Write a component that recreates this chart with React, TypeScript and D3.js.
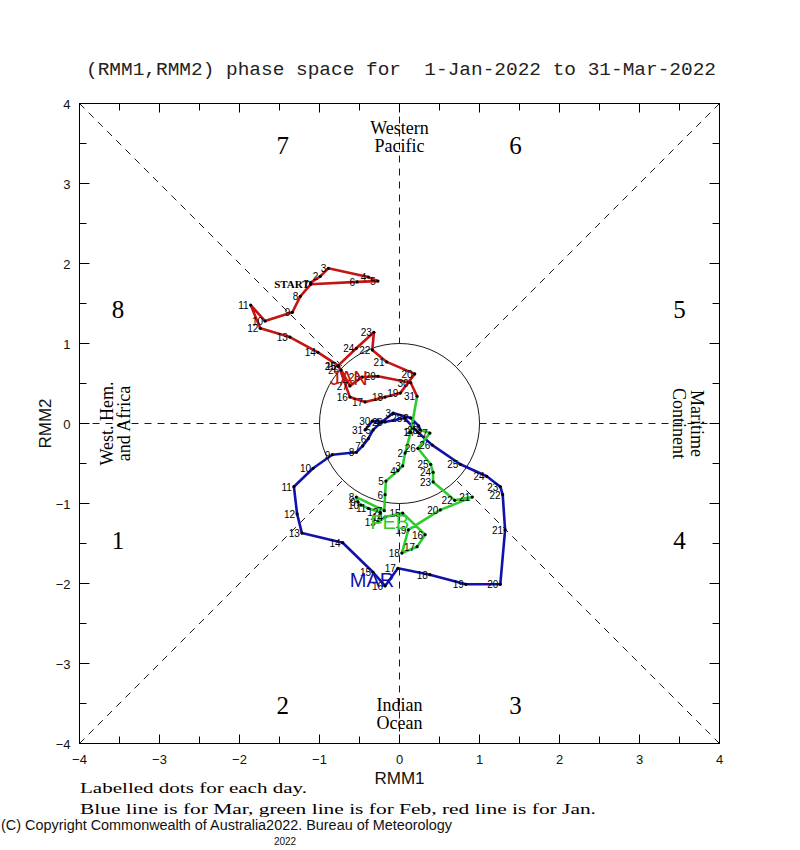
import * as d3 from 'd3'

// RMM1 / RMM2 values per day
const janRmm1 = [-1.11, -0.99, -0.89, -0.39, -0.27, -0.53, -1.11, -1.24, -1.34, -1.68, -1.86, -1.74, -1.37, -1.02, -0.76,
  -0.62, -0.43, -0.18, 0.01, 0.19, -0.16, -0.34, -0.32, -0.54, -0.77, -0.73, -0.62, -0.47, -0.27, 0.14, 0.22]
const janRmm2 = [1.76, 1.84, 1.94, 1.83, 1.78, 1.77, 1.74, 1.59, 1.39, 1.28, 1.48, 1.19, 1.08, 0.89, 0.72,
  0.33, 0.27, 0.33, 0.38, 0.62, 0.77, 0.92, 1.14, 0.94, 0.72, 0.67, 0.47, 0.58, 0.59, 0.51, 0.34]
const febRmm1 = [0.14, 0.07, 0.04, -0.02, -0.17, -0.18, -0.19, -0.54, -0.52, -0.48, -0.39, -0.24, -0.27, -0.18,
  0.04, 0.32, 0.22, 0.03, 0.11, 0.51, 0.91, 0.69, 0.42, 0.42, 0.39, 0.23, 0.38, 0.26]
const febRmm2 = [-0.11, -0.37, -0.53, -0.59, -0.72, -0.89, -1.09, -0.92, -0.98, -1.02, -1.06, -1.11, -1.23, -1.17,
  -1.12, -1.39, -1.54, -1.62, -1.33, -1.08, -0.92, -0.96, -0.73, -0.61, -0.51, -0.31, -0.12, -0.08]
const marRmm1 = [0.24, 0.14, -0.08, -0.22, -0.33, -0.39, -0.46, -0.54, -0.84, -1.08, -1.32, -1.28, -1.22, -0.71,
  -0.33, -0.18, -0.02, 0.38, 0.83, 1.26, 1.32, 1.29, 1.26, 1.09, 0.76, 0.41, 0.23, 0.06, -0.18, -0.34, -0.43]
const marRmm2 = [-0.03, 0.07, 0.13, 0.02, -0.08, -0.19, -0.28, -0.36, -0.39, -0.56, -0.79, -1.13, -1.37, -1.49,
  -1.86, -2.03, -1.81, -1.89, -2.01, -2.01, -1.33, -0.89, -0.79, -0.66, -0.51, -0.27, -0.11, 0.07, 0.02, 0.03, -0.08]

const monthNames = ['JAN', 'FEB', 'MAR']
const monthColors = ['#c41414', '#2ecc2e', '#1212a8']
const monthLabelDx = [10, -13, -1]
const monthLabelDy = [12, 9, 8]

const axisTicks = [-4, -3, -2, -1, 0, 1, 2, 3, 4]
const minorTicks = d3.range(-3.5, 4, 1)
const phaseNums = ['1', '2', '3', '4', '5', '6', '7', '8']
const phaseX = [-3.52, -1.46, 1.45, 3.5, 3.5, 1.45, -1.46, -3.52]
const phaseY = [-1.46, -3.52, -3.52, -1.46, 1.43, 3.48, 3.48, 1.43]

const W = 800
const H = 850
const x = d3.scaleLinear().domain([-4, 4]).range([79.5, 719.5])
const y = d3.scaleLinear().domain([-4, 4]).range([743.5, 103.5])

type Pt = [number, number]
const zip = (a: number[], b: number[]): Pt[] => a.map((v, i) => [v, b[i]])
const series: Pt[][] = [zip(janRmm1, janRmm2), zip(febRmm1, febRmm2), zip(marRmm1, marRmm2)]

const line = d3.line<Pt>().x(d => x(d[0])).y(d => y(d[1]))

function App() {
  const cx = x(0), cy = y(0), r = x(1) - x(0)
  const x0 = x(-4), x1 = x(4), y0 = y(4), y1 = y(-4)
  const k = Math.SQRT1_2 * r
  const dash = '7,6'
  const sansNarrow = '"Liberation Sans Narrow", "Liberation Sans", Arial, sans-serif'
  const serif = '"Liberation Serif", "DejaVu Serif", serif'
  const drawOrder = [2, 1, 0]

  return (
    <svg width={W} height={H} style={{ position: 'absolute', left: 0, top: 0, background: '#fff' }}>
      {/* title */}
      <text x={86} y={75} fontFamily='"Liberation Mono", "DejaVu Sans Mono", monospace' fontSize={18}
        textLength={630} lengthAdjust="spacingAndGlyphs" fill="#222" style={{ whiteSpace: 'pre' }}>
        {'(RMM1,RMM2) phase space for  1-Jan-2022 to 31-Mar-2022'}
      </text>

      {/* dashed phase dividers, outside the unit circle */}
      <g stroke="#000" strokeWidth={0.9} strokeDasharray={dash} fill="none">
        <line x1={cx} y1={y0} x2={cx} y2={cy - r} />
        <line x1={cx} y1={cy + r} x2={cx} y2={y1} />
        <line x1={x0} y1={cy} x2={cx - r} y2={cy} />
        <line x1={cx + r} y1={cy} x2={x1} y2={cy} />
        <line x1={x0} y1={y0} x2={cx - k} y2={cy - k} />
        <line x1={x1} y1={y0} x2={cx + k} y2={cy - k} />
        <line x1={x0} y1={y1} x2={cx - k} y2={cy + k} />
        <line x1={x1} y1={y1} x2={cx + k} y2={cy + k} />
      </g>
      <circle cx={cx} cy={cy} r={r} fill="none" stroke="#000" strokeWidth={0.9} />

      {/* frame + ticks */}
      <rect x={x0} y={y0} width={x1 - x0} height={y1 - y0} fill="none" stroke="#000" strokeWidth={1} />
      <g stroke="#000" strokeWidth={1}>
        {axisTicks.map(t => (
          <g key={'M' + t}>
            <line x1={x(t)} y1={y1} x2={x(t)} y2={y1 - 9} />
            <line x1={x(t)} y1={y0} x2={x(t)} y2={y0 + 9} />
            <line x1={x0} y1={y(t)} x2={x0 + 10} y2={y(t)} />
            <line x1={x1} y1={y(t)} x2={x1 - 10} y2={y(t)} />
          </g>
        ))}
        {minorTicks.map(t => (
          <g key={'m' + t}>
            <line x1={x(t)} y1={y1} x2={x(t)} y2={y1 - 7} />
            <line x1={x(t)} y1={y0} x2={x(t)} y2={y0 + 7} />
            <line x1={x0} y1={y(t)} x2={x0 + 7} y2={y(t)} />
            <line x1={x1} y1={y(t)} x2={x1 - 7} y2={y(t)} />
          </g>
        ))}
      </g>
      <g fontFamily={sansNarrow} fontSize={13} fill="#111">
        {axisTicks.map(t => (
          <text key={'xt' + t} x={x(t)} y={y1 + 20} textAnchor="middle">{t < 0 ? '\u2212' + -t : String(t)}</text>
        ))}
        {axisTicks.map(t => (
          <text key={'yt' + t} x={x0 - 9} y={y(t) + 5} textAnchor="end">{t < 0 ? '\u2212' + -t : String(t)}</text>
        ))}
      </g>
      <text x={cx} y={784} textAnchor="middle" fontFamily={sansNarrow} fontSize={17} fill="#111">RMM1</text>
      <text transform={`translate(51,${cy}) rotate(-90)`} textAnchor="middle" fontFamily={sansNarrow}
        fontSize={17} fill="#111">RMM2</text>

      {/* phase numbers and regions */}
      <g fontFamily={serif} fontSize={25} fill="#000" textAnchor="middle">
        {phaseNums.map((p, i) => (
          <text key={p} x={x(phaseX[i])} y={y(phaseY[i])} dy="0.35em">{p}</text>
        ))}
      </g>
      <g fontFamily={serif} fontSize={18} fill="#000" textAnchor="middle" style={{ whiteSpace: 'pre' }}>
        <text x={cx} y={134}>Western</text>
        <text x={cx} y={152}>Pacific</text>
        <text x={cx} y={711}>Indian</text>
        <text x={cx} y={729}>Ocean</text>
        <text transform={`translate(113,${cy}) rotate(-90)`}>West.  Hem.</text>
        <text transform={`translate(130,${cy}) rotate(-90)`}>and Africa</text>
        <text transform={`translate(691,${cy}) rotate(90)`}>Maritime</text>
        <text transform={`translate(673,${cy}) rotate(90)`}>Continent</text>
      </g>

      {/* trajectories */}
      {drawOrder.map(m => {
        const pts = m > 0 ? [series[m - 1][series[m - 1].length - 1], ...series[m]] : series[m]
        return (
          <path key={'l' + m} d={line(pts) || ''} fill="none" stroke={monthColors[m]} strokeWidth={2.6}
            strokeLinejoin="round" />
        )
      })}
      {drawOrder.map(m => (
        <g key={'d' + m}>
          {series[m].map((d, i) => (
            <circle key={i} cx={x(d[0])} cy={y(d[1])} r={1.6} fill="#000" />
          ))}
          {series[m].map((d, i) => (m === 0 && i === 0 ? (
            <text key={'t' + i} x={x(d[0]) - 1} y={y(d[1]) + 5} textAnchor="end" fontFamily={serif}
              fontWeight="bold" fontSize={11} fill="#000">START</text>
          ) : (
            <text key={'t' + i} x={x(d[0]) - 2} y={y(d[1]) + 4} textAnchor="end" fontFamily="Arial, Liberation Sans, sans-serif"
              fontSize={10} fill="#000">{i + 1}</text>
          )))}
          <text x={x(series[m][14][0]) + monthLabelDx[m]} y={y(series[m][14][1]) + monthLabelDy[m]} dy="0.35em"
            textAnchor="middle" fontFamily="Arial, Liberation Sans, sans-serif" fontSize={20}
            fill={monthColors[m]}>{monthNames[m]}</text>
        </g>
      ))}

      {/* footnotes */}
      <g fontFamily={serif} fontSize={15} fill="#000">
        <text x={80} y={793} textLength={227} lengthAdjust="spacingAndGlyphs">Labelled dots for each day.</text>
        <text x={80} y={814} textLength={516} lengthAdjust="spacingAndGlyphs">
          Blue line is for Mar, green line is for Feb, red line is for Jan.
        </text>
      </g>
      <text x={1} y={830} fontFamily={sansNarrow} fontSize={14} fill="#111" textLength={451}
        lengthAdjust="spacingAndGlyphs">(C) Copyright Commonwealth of Australia2022. Bureau of Meteorology</text>
      <text x={285} y={845} textAnchor="middle" fontFamily="Arial, Liberation Sans, sans-serif" fontSize={10}
        fill="#111">2022</text>
    </svg>
  )
}

export default App
